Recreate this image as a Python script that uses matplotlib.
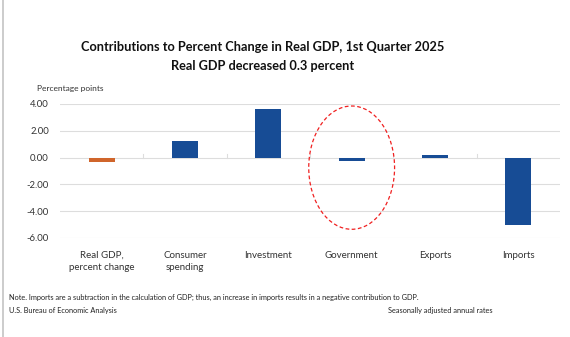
import matplotlib
matplotlib.use('Agg')
import matplotlib.pyplot as plt
import matplotlib.patches as patches
import matplotlib.lines as lines

# Data
categories = ['Real GDP,\npercent change', 'Consumer\nspending', 'Investment',
              'Government', 'Exports', 'Imports']
values = [-0.30, 1.21, 3.60, -0.25, 0.19, -5.05]
barColors = ['#D0652B', '#174C95', '#174C95', '#174C95', '#174C95', '#174C95']
yTicks = [4, 2, 0, -2, -4, -6]

plt.rcParams['font.family'] = ['Lato', 'DejaVu Sans']

fig = plt.figure(figsize=(5.7, 3.37), dpi=100)
ax = fig.add_axes([60/570, 1 - 238/337, 500/570, (238 - 104)/337])

x = list(range(len(categories)))
ax.bar(x, values, width=0.31, color=barColors, zorder=3)

ax.set_xlim(-0.5, 5.5)
ax.set_ylim(-6, 4)
ax.set_yticks(yTicks)
ax.set_yticklabels(['%.2f' % v for v in yTicks], fontsize=6.8, color='#333333')
ax.set_xticks(x)
ax.set_xticklabels(categories, fontsize=7, color='#333333', linespacing=1.5)
ax.tick_params(axis='y', length=0, pad=8)
ax.tick_params(axis='x', length=0, pad=9)
for s in ax.spines.values():
    s.set_visible(False)
ax.grid(axis='y', color='#DDDDDD', linewidth=0.8, zorder=0)

# small separators on the zero line
for b in [0.5, 1.5, 2.5, 3.5, 4.5]:
    ax.plot([b, b], [0, 0.25], color='#DDDDDD', linewidth=0.8, zorder=1)

# red dashed circle around Government
ell = patches.Ellipse((3, -0.75), 1.03, 9.2, fill=False, edgecolor='#F02020',
                      linestyle=(0, (3, 2)), linewidth=0.9, zorder=4)
ax.add_patch(ell)

fig.text(263/570, 1 - 47/337, 'Contributions to Percent Change in Real GDP, 1st Quarter 2025',
         ha='center', va='center', fontsize=9.2, fontweight='bold', color='#111111')
fig.text(263/570, 1 - 66/337, 'Real GDP decreased 0.3 percent',
         ha='center', va='center', fontsize=9.2, fontweight='bold', color='#111111')
fig.text(37/570, 1 - 89/337, 'Percentage points', ha='left', va='center',
         fontsize=6, color='#333333')

fig.text(9/570, 1 - 297/337, 'Note. Imports are a subtraction in the calculation of GDP; thus, '
         'an increase in imports results in a negative contribution to GDP.',
         ha='left', va='center', fontsize=5.35, color='#222222')
fig.text(9/570, 1 - 311/337, 'U.S. Bureau of Economic Analysis', ha='left', va='center',
         fontsize=5.35, color='#222222')
fig.text(493/570, 1 - 311/337, 'Seasonally adjusted annual rates', ha='right', va='center',
         fontsize=5.35, color='#222222')

# left border line
fig.add_artist(lines.Line2D([2.5/570, 2.5/570], [0, 1], color='#C4C4C4', linewidth=1.2))

fig.savefig('out.png', dpi=100)
